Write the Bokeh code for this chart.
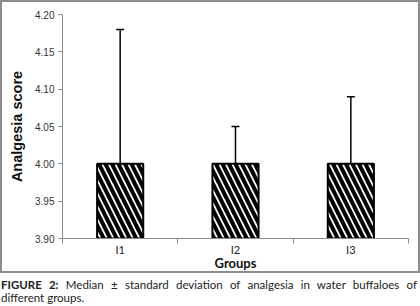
from bokeh.plotting import figure
from bokeh.models import (Range1d, FixedTicker, Whisker, ColumnDataSource, Div,
                          NumeralTickFormatter, InlineStyleSheet)
from bokeh.layouts import column
from bokeh.embed import file_html
from bokeh.resources import INLINE

groups = ["I1", "I2", "I3"]
medians = [4.00, 4.00, 4.00]
upper = [4.18, 4.05, 4.09]
y_ticks = [3.90, 3.95, 4.00, 4.05, 4.10, 4.15, 4.20]
baseline = 3.90

xpos = [i + 0.5 for i in range(len(groups))]
src = ColumnDataSource(dict(x=xpos, top=medians, bottom=[baseline] * len(groups),
                            upper=upper, lower=medians))

W, H = 420, 273
p = figure(width=W, height=H, x_range=Range1d(0, len(groups)),
           y_range=Range1d(y_ticks[0], y_ticks[-1]),
           output_backend="svg", toolbar_location=None,
           min_border_left=62, min_border_right=12, min_border_top=14, min_border_bottom=35)
p.outline_line_color = None
p.grid.visible = False
# transparent canvas so the grey panel frame drawn by CSS behind it shows through
p.background_fill_alpha = 0
p.border_fill_alpha = 0
frame_css = "box-shadow: inset 0 0 0 2px #8c8c8c; outline: 2px solid #8c8c8c; outline-offset: -2px;"
p.stylesheets = [InlineStyleSheet(css=":host { " + frame_css + " }")]
p.styles = {"box-shadow": "inset 0 0 0 2px #8c8c8c", "outline": "2px solid #8c8c8c",
            "outline-offset": "-2px"}

ax_col = "#8a8a8a"
yax = p.yaxis[0]
yax.ticker = FixedTicker(ticks=y_ticks)
yax.formatter = NumeralTickFormatter(format="0.00")
yax.axis_line_color = ax_col
yax.major_tick_line_color = ax_col
yax.major_tick_out = 4
yax.major_tick_in = 0
yax.minor_tick_line_color = None
yax.major_label_text_font = "Liberation Sans"
yax.major_label_text_font_size = "10px"
yax.major_label_text_color = "#333333"
yax.major_label_standoff = 4
yax.axis_label = "Analgesia score"
yax.axis_label_text_font = "Liberation Sans"
yax.axis_label_text_font_style = "bold"
yax.axis_label_text_font_size = "14.5px"
yax.axis_label_text_color = "#111111"
yax.axis_label_standoff = 7

xax = p.xaxis[0]
xax.ticker = FixedTicker(ticks=xpos, minor_ticks=list(range(len(groups) + 1)))
xax.major_label_overrides = {x: g for x, g in zip(xpos, groups)}
xax.axis_line_color = ax_col
xax.major_tick_line_color = None
xax.minor_tick_line_color = ax_col
xax.minor_tick_out = 5
xax.minor_tick_in = 0
xax.major_label_text_font = "Lato"
xax.major_label_text_font_size = "11px"
xax.major_label_text_color = "#222222"
xax.major_label_standoff = -2
xax.axis_label = "Groups"
xax.axis_label_text_font = "Lato"
xax.axis_label_text_font_style = "bold"
xax.axis_label_text_font_size = "13px"
xax.axis_label_text_color = "#111111"
xax.axis_label_standoff = -4

p.vbar(x="x", top="top", bottom="bottom", width=0.4, source=src,
       fill_color="white", line_color="black", line_width=2,
       hatch_pattern="left_diagonal_line", hatch_color="black",
       hatch_weight=4, hatch_scale=13)

w = Whisker(source=src, base="x", upper="upper", lower="lower",
            line_color="black", line_width=1.5)
w.upper_head.size = 8
w.upper_head.line_width = 1.5
w.lower_head = None
p.add_layout(w)

cap = Div(text='<div style="font-family: Lato, sans-serif; font-size: 11.5px; color:#222; width: 418px; margin:0; padding: 0 1px;">'
               '<div style="text-align: justify; text-align-last: justify; line-height: 13px; white-space: nowrap;">'
               '<b>FIGURE 2:</b> Median ± standard deviation of analgesia in water buffaloes of</div>'
               '<div style="line-height: 13px;">different groups.</div></div>',
          width=420, height=28, margin=(5, 0, 0, 0))

layout = column(p, cap, spacing=0)
open("out.html", "w").write(file_html(layout, INLINE))
